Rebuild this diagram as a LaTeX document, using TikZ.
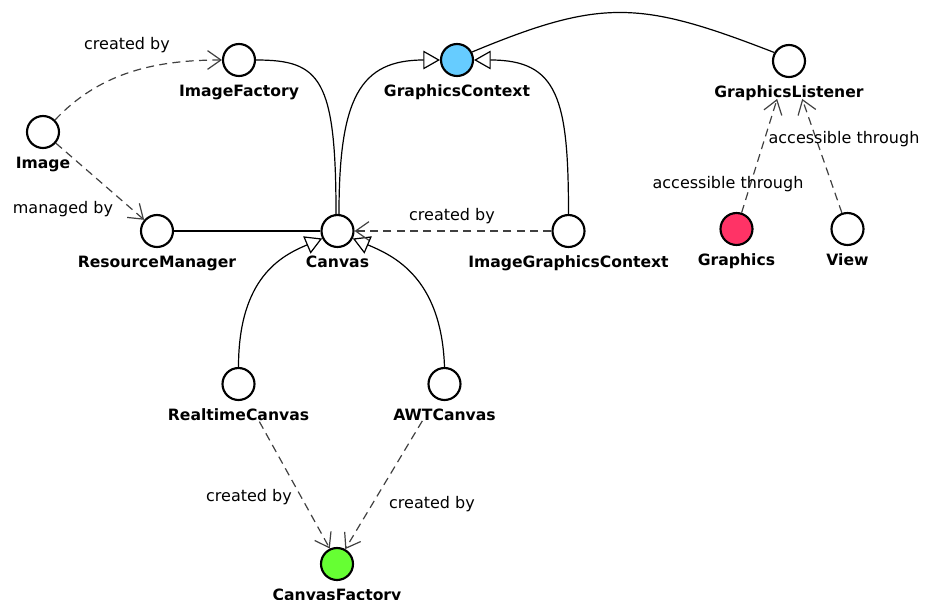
\documentclass[tikz,border=0pt]{standalone}
\usepackage{fontspec}
\setmainfont{DejaVu Sans}
\usetikzlibrary{arrows.meta}
\definecolor{gcblue}{HTML}{66CCFF}
\definecolor{grred}{HTML}{FF3366}
\definecolor{cfgreen}{HTML}{66FF33}
\begin{document}
\begin{tikzpicture}[x=0.75pt,y=-0.75pt,
  cls/.style={circle,draw=black,line width=1.6pt,minimum size=24pt,inner sep=0pt},
  nlabel/.style={anchor=base,inner sep=0pt,font=\fontsize{11.7}{14}\selectfont\bfseries},
  elabel/.style={inner sep=0pt,font=\fontsize{12}{14}\selectfont},
  assoc/.style={line width=0.9pt},
  gen/.style={line width=0.9pt,-{Triangle[open,length=12.5pt,width=14pt]}},
  dep/.style={line width=0.9pt,black!75,dash pattern=on 6pt off 4pt,-{Straight Barb[length=10pt,width=14pt]}}]
\useasboundingbox (0,0) rectangle (926,600);

% class nodes
\node[cls] (img) at (43,132) {};
\node[cls] (imf) at (239,60) {};
\node[cls] (rm) at (157,231) {};
\node[cls] (canvas) at (337.5,231) {};
\node[cls,fill=gcblue] (gc) at (457,60) {};
\node[cls] (igc) at (568.5,231) {};
\node[cls] (gl) at (789,61) {};
\node[cls,fill=grred] (gr) at (736.5,229) {};
\node[cls] (view) at (847.5,229) {};
\node[cls] (rc) at (238.5,384) {};
\node[cls] (awt) at (444.5,384) {};
\node[cls,fill=cfgreen] (cf) at (337,564) {};

% node labels
\node[nlabel] (limg) at (43,168) {Image};
\node[nlabel] (limf) at (239,96) {ImageFactory};
\node[nlabel] (lrm) at (157,267) {ResourceManager};
\node[nlabel] (lcanvas) at (337.5,267) {Canvas};
\node[nlabel] (lgc) at (457,96) {GraphicsContext};
\node[nlabel] (ligc) at (568.5,267) {ImageGraphicsContext};
\node[nlabel] (lgl) at (789,97) {GraphicsListener};
\node[nlabel] (lgr) at (736.5,265) {Graphics};
\node[nlabel] (lview) at (847.5,265) {View};
\node[nlabel] (lrc) at (238.5,420) {RealtimeCanvas};
\node[nlabel] (lawt) at (444.5,420) {AWTCanvas};
\node[nlabel] (lcf) at (337,600) {CanvasFactory};

% solid associations
\draw[assoc] (imf.east) .. controls +(64,0) and +(0,-136) .. (canvas.95);
\draw[assoc] (rm) -- (canvas);
\draw[assoc] (gc.28) .. controls +(130,-54) and +(-134,-52) .. (gl.150);

% generalizations
\draw[gen] (canvas.85) .. controls +(0,-116) and +(-80,0) .. (gc.west);
\draw[gen] (igc.north) .. controls +(0,-115) and +(84,0) .. (gc.east);
\draw[gen] (rc.north) .. controls +(0,-90) and +(-40,17) .. (canvas.206);
\draw[gen] (awt.north) .. controls +(-3,-90) and +(40,17) .. (canvas.334);

% dependencies
\draw[dep] (img.45) .. controls +(46,-49) and +(-63,0) .. (imf.west);
\draw[dep] (img) -- (rm);
\draw[dep] (igc) -- (canvas);
\draw[dep,shorten <=19.5pt] (rc) -- (cf.115);
\draw[dep,shorten <=19.5pt] (awt) -- (cf.61);
\draw[dep,shorten >=17pt] (gr) -- (gl);
\draw[dep,shorten >=17.3pt] (view) -- (gl);

% edge labels
\node[elabel] (e1) at (127,45) {created by};
\node[elabel] (e2) at (63,209) {managed by};
\node[elabel] (e3) at (452,216) {created by};
\node[elabel] (e4) at (728,184) {accessible through};
\node[elabel] (e5) at (844,139) {accessible through};
\node[elabel] (e6) at (249,497) {created by};
\node[elabel] (e7) at (432,504) {created by};
\end{tikzpicture}
\end{document}
